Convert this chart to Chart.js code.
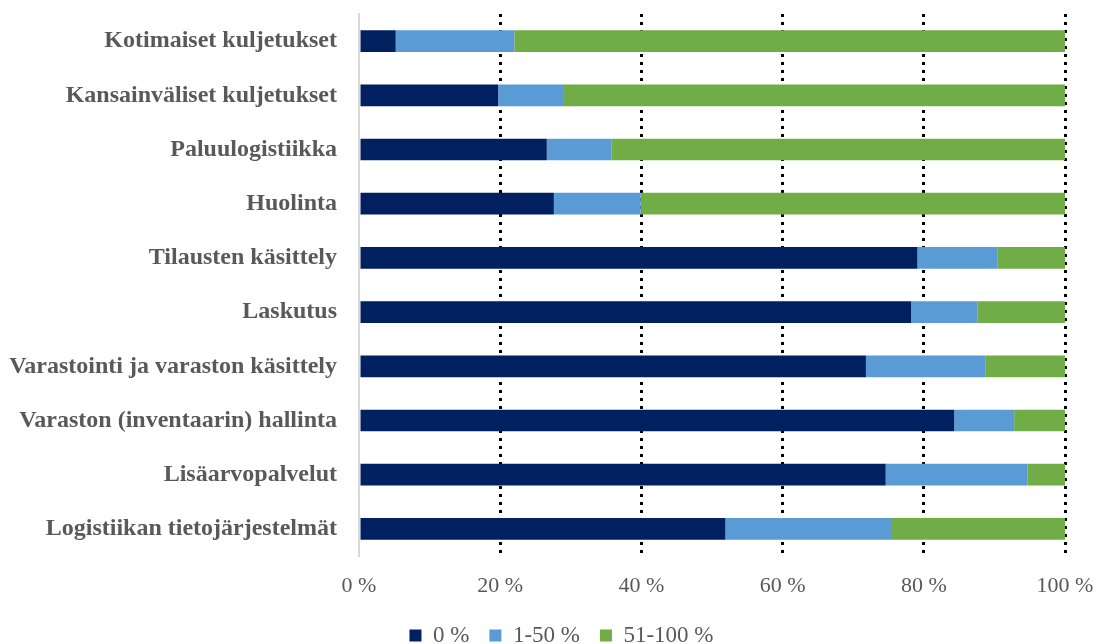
<!DOCTYPE html>
<html lang="fi">
<head>
    <meta charset="UTF-8">
    <title>Logistiikkapalvelut</title>
    <style>
        html, body { margin: 0; padding: 0; background: #fff; }
        #wrap { width: 1096px; height: 644px; }
    </style>
</head>
<body>
    <div id="wrap"><canvas id="chart"></canvas></div>

    <script src="https://cdn.jsdelivr.net/npm/chart.js"></script>
    <script>
        // Categories, top to bottom
        const categories = [
            'Kotimaiset kuljetukset',
            'Kansainväliset kuljetukset',
            'Paluulogistiikka',
            'Huolinta',
            'Tilausten käsittely',
            'Laskutus',
            'Varastointi ja varaston käsittely',
            'Varaston (inventaarin) hallinta',
            'Lisäarvopalvelut',
            'Logistiikan tietojärjestelmät'
        ];

        // Share of respondents (%) per series
        const zero = [5.2, 19.7, 26.6, 27.6, 79.1, 78.2, 71.8, 84.3, 74.6, 51.9];
        const low = [16.8, 9.2, 9.2, 12.3, 11.3, 9.4, 16.9, 8.5, 20.1, 23.6];
        const high = [78.0, 71.1, 64.2, 60.1, 9.6, 12.4, 11.3, 7.2, 5.3, 24.5];

        const seriesNames = ['0 %', '1-50 %', '51-100 %'];
        const xTicks = [0, 20, 40, 60, 80, 100];

        const gray = '#595959';
        const serif = "'Liberation Serif', 'Times New Roman', serif";

        // nudge the legend a bit to the right, like in the original
        const legendShift = {
            id: 'legendShift',
            afterLayout(chart) {
                if (chart.legend) {
                    chart.legend.left += 29;
                    chart.legend.right += 29;
                }
            }
        };

        const ctx = document.getElementById('chart').getContext('2d');
        new Chart(ctx, {
            type: 'bar',
            data: {
                labels: categories,
                datasets: [
                    { label: seriesNames[0], data: zero, backgroundColor: '#002060' },
                    { label: seriesNames[1], data: low, backgroundColor: '#5B9BD5' },
                    { label: seriesNames[2], data: high, backgroundColor: '#70AD47' }
                ]
            },
            plugins: [legendShift],
            options: {
                indexAxis: 'y',
                responsive: true,
                maintainAspectRatio: false,
                animation: false,
                categoryPercentage: 1,
                barPercentage: 0.4,
                layout: { padding: { top: 14, right: 31, left: 0, bottom: -13 } },
                plugins: {
                    tooltip: { enabled: false },
                    legend: {
                        position: 'bottom',
                        labels: {
                            boxWidth: 12,
                            boxHeight: 12,
                            padding: 20,
                            color: gray,
                            font: { family: serif, size: 23 }
                        }
                    }
                },
                scales: {
                    x: {
                        stacked: true,
                        min: 0,
                        max: 100,
                        afterBuildTicks: (scale) => {
                            scale.ticks = xTicks.map(v => ({ value: v }));
                        },
                        afterFit: (scale) => {
                            scale.height = 48;
                            scale.paddingLeft = 0;
                            scale.paddingRight = 0;
                        },
                        ticks: {
                            padding: 17,
                            color: gray,
                            font: { family: serif, size: 22 },
                            callback: (v) => v + ' %'
                        },
                        grid: {
                            drawTicks: false,
                            color: (c) => c.index === 0 ? 'rgba(0,0,0,0)' : '#000',
                            lineWidth: 3
                        },
                        border: { display: false, dash: [3, 5] }
                    },
                    y: {
                        stacked: true,
                        afterFit: (scale) => {
                            scale.width = 359;
                            scale.paddingTop = 0;
                            scale.paddingBottom = 0;
                        },
                        ticks: {
                            padding: 22,
                            color: gray,
                            font: { family: serif, size: 24, weight: 'bold' }
                        },
                        grid: { display: false, drawTicks: false },
                        border: { display: true, color: '#d9d9d9', width: 2 }
                    }
                }
            }
        });
    </script>
</body>
</html>
